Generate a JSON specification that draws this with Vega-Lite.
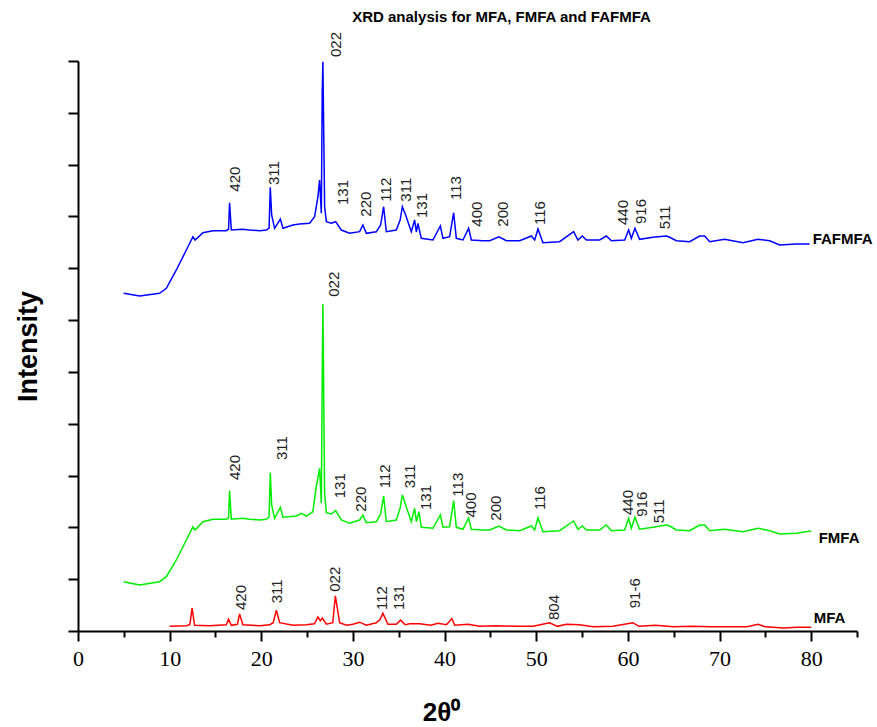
{
"$schema": "https://vega.github.io/schema/vega-lite/v6.json",
"width": 779, "height": 570,
"autosize": {"type": "none"},
"padding": {"left": 78, "top": 61, "right": 20, "bottom": 96},
"background": "white",
"config": {"view": {"stroke": null}, "font": "Liberation Sans"},
"title": {"text": "XRD analysis for MFA, FMFA and FAFMFA", "font": "Liberation Sans", "fontSize": 15, "fontWeight": "bold", "color": "black", "anchor": "middle", "dx": 34, "dy": 16, "offset": 8, "baseline": "bottom"},
"datasets": {
"spectra": [
{"series":"FAFMFA","x":4.98,"y":651.7},{"series":"FAFMFA","x":6.72,"y":646.5},{"series":"FAFMFA","x":8.9,"y":651.7},{"series":"FAFMFA","x":9.64,"y":661.3},{"series":"FAFMFA","x":10.73,"y":696.7},{"series":"FAFMFA","x":11.82,"y":735.3},{"series":"FAFMFA","x":12.54,"y":760.9},{"series":"FAFMFA","x":12.78,"y":754.6},{"series":"FAFMFA","x":13.63,"y":768.6},{"series":"FAFMFA","x":14.72,"y":772.5},{"series":"FAFMFA","x":16.18,"y":772.5},{"series":"FAFMFA","x":16.43,"y":775.8},{"series":"FAFMFA","x":16.54,"y":826.5},{"series":"FAFMFA","x":16.73,"y":773.8},{"series":"FAFMFA","x":17.96,"y":775.2},{"series":"FAFMFA","x":18.73,"y":773.8},{"series":"FAFMFA","x":19.82,"y":772.5},{"series":"FAFMFA","x":20.55,"y":773.8},{"series":"FAFMFA","x":20.85,"y":777.7},{"series":"FAFMFA","x":20.98,"y":856.3},{"series":"FAFMFA","x":21.13,"y":802.8},{"series":"FAFMFA","x":21.45,"y":777.1},{"series":"FAFMFA","x":22.08,"y":795.1},{"series":"FAFMFA","x":22.36,"y":777.1},{"series":"FAFMFA","x":23.45,"y":783.5},{"series":"FAFMFA","x":24.18,"y":785.4},{"series":"FAFMFA","x":25.27,"y":786.8},{"series":"FAFMFA","x":25.82,"y":799.5},{"series":"FAFMFA","x":26.18,"y":838.1},{"series":"FAFMFA","x":26.36,"y":870.3},{"series":"FAFMFA","x":26.55,"y":806.1},{"series":"FAFMFA","x":26.65,"y":1040},{"series":"FAFMFA","x":26.72,"y":1098.6},{"series":"FAFMFA","x":26.91,"y":818.8},{"series":"FAFMFA","x":27.1,"y":789.9},{"series":"FAFMFA","x":27.64,"y":786.8},{"series":"FAFMFA","x":28.11,"y":789.9},{"series":"FAFMFA","x":28.73,"y":773.8},{"series":"FAFMFA","x":29.64,"y":767.5},{"series":"FAFMFA","x":30.73,"y":770.6},{"series":"FAFMFA","x":31.09,"y":783.5},{"series":"FAFMFA","x":31.46,"y":767.5},{"series":"FAFMFA","x":32.55,"y":770.6},{"series":"FAFMFA","x":33.02,"y":783.5},{"series":"FAFMFA","x":33.35,"y":818.8},{"series":"FAFMFA","x":33.64,"y":770.6},{"series":"FAFMFA","x":34.73,"y":773.8},{"series":"FAFMFA","x":35.15,"y":793.1},{"series":"FAFMFA","x":35.39,"y":818.8},{"series":"FAFMFA","x":35.75,"y":802.8},{"series":"FAFMFA","x":36.37,"y":770.6},{"series":"FAFMFA","x":36.73,"y":793.1},{"series":"FAFMFA","x":36.92,"y":770},{"series":"FAFMFA","x":37.09,"y":786.8},{"series":"FAFMFA","x":37.46,"y":757.8},{"series":"FAFMFA","x":38.73,"y":754.6},{"series":"FAFMFA","x":39.54,"y":781.6},{"series":"FAFMFA","x":39.82,"y":757.8},{"series":"FAFMFA","x":40.55,"y":760.9},{"series":"FAFMFA","x":40.99,"y":807.2},{"series":"FAFMFA","x":41.28,"y":757.8},{"series":"FAFMFA","x":42.0,"y":754.6},{"series":"FAFMFA","x":42.62,"y":777.1},{"series":"FAFMFA","x":42.92,"y":754.6},{"series":"FAFMFA","x":44.18,"y":753.2},{"series":"FAFMFA","x":44.92,"y":753.2},{"series":"FAFMFA","x":45.93,"y":760.9},{"series":"FAFMFA","x":46.74,"y":753.2},{"series":"FAFMFA","x":48.19,"y":753.2},{"series":"FAFMFA","x":49.47,"y":762.3},{"series":"FAFMFA","x":49.83,"y":754.6},{"series":"FAFMFA","x":50.19,"y":775.8},{"series":"FAFMFA","x":50.73,"y":749.3},{"series":"FAFMFA","x":52.55,"y":751.3},{"series":"FAFMFA","x":54.08,"y":770.6},{"series":"FAFMFA","x":54.55,"y":754.6},{"series":"FAFMFA","x":55.03,"y":762.3},{"series":"FAFMFA","x":55.47,"y":754.6},{"series":"FAFMFA","x":56.92,"y":754.6},{"series":"FAFMFA","x":57.65,"y":762.3},{"series":"FAFMFA","x":58.2,"y":753.2},{"series":"FAFMFA","x":59.65,"y":754.6},{"series":"FAFMFA","x":60.08,"y":773.8},{"series":"FAFMFA","x":60.38,"y":757.8},{"series":"FAFMFA","x":60.77,"y":777.1},{"series":"FAFMFA","x":61.28,"y":755.9},{"series":"FAFMFA","x":62.73,"y":759.8},{"series":"FAFMFA","x":64.2,"y":762.3},{"series":"FAFMFA","x":64.56,"y":759.8},{"series":"FAFMFA","x":65.29,"y":753.2},{"series":"FAFMFA","x":66.74,"y":751.3},{"series":"FAFMFA","x":67.83,"y":762.3},{"series":"FAFMFA","x":68.38,"y":762.3},{"series":"FAFMFA","x":68.92,"y":751.3},{"series":"FAFMFA","x":70.56,"y":755.9},{"series":"FAFMFA","x":72.56,"y":749.3},{"series":"FAFMFA","x":74.19,"y":755.9},{"series":"FAFMFA","x":75.47,"y":753.2},{"series":"FAFMFA","x":76.56,"y":744.9},{"series":"FAFMFA","x":78.38,"y":746.8},{"series":"FAFMFA","x":79.83,"y":746.8},
{"series":"FMFA","x":4.98,"y":95.1},{"series":"FMFA","x":6.72,"y":88.8},{"series":"FMFA","x":8.9,"y":95.1},{"series":"FMFA","x":9.64,"y":104.8},{"series":"FMFA","x":10.73,"y":137.0},{"series":"FMFA","x":11.82,"y":175.6},{"series":"FMFA","x":12.54,"y":201.3},{"series":"FMFA","x":12.78,"y":194.9},{"series":"FMFA","x":13.63,"y":210.9},{"series":"FMFA","x":14.72,"y":215.6},{"series":"FMFA","x":16.18,"y":215.6},{"series":"FMFA","x":16.43,"y":218.1},{"series":"FMFA","x":16.54,"y":270.7},{"series":"FMFA","x":16.73,"y":215.6},{"series":"FMFA","x":17.96,"y":217.5},{"series":"FMFA","x":18.73,"y":215.6},{"series":"FMFA","x":19.82,"y":214.2},{"series":"FMFA","x":20.55,"y":215.6},{"series":"FMFA","x":20.85,"y":220.0},{"series":"FMFA","x":20.98,"y":305.5},{"series":"FMFA","x":21.13,"y":243.2},{"series":"FMFA","x":21.45,"y":217.5},{"series":"FMFA","x":22.08,"y":238.7},{"series":"FMFA","x":22.36,"y":219.4},{"series":"FMFA","x":23.82,"y":221.9},{"series":"FMFA","x":24.37,"y":227.1},{"series":"FMFA","x":24.91,"y":221.9},{"series":"FMFA","x":25.63,"y":230.2},{"series":"FMFA","x":26.0,"y":278.5},{"series":"FMFA","x":26.36,"y":314.0},{"series":"FMFA","x":26.55,"y":246.4},{"series":"FMFA","x":26.65,"y":500},{"series":"FMFA","x":26.72,"y":631.0},{"series":"FMFA","x":26.91,"y":265.7},{"series":"FMFA","x":27.1,"y":228.3},{"series":"FMFA","x":27.64,"y":225.8},{"series":"FMFA","x":28.11,"y":232.2},{"series":"FMFA","x":28.73,"y":214.2},{"series":"FMFA","x":29.64,"y":207.8},{"series":"FMFA","x":30.73,"y":214.2},{"series":"FMFA","x":31.09,"y":223.9},{"series":"FMFA","x":31.46,"y":209.0},{"series":"FMFA","x":32.55,"y":210.9},{"series":"FMFA","x":33.02,"y":225.8},{"series":"FMFA","x":33.35,"y":260.5},{"series":"FMFA","x":33.64,"y":210.9},{"series":"FMFA","x":34.73,"y":214.2},{"series":"FMFA","x":35.15,"y":237.4},{"series":"FMFA","x":35.39,"y":262.5},{"series":"FMFA","x":35.75,"y":243.2},{"series":"FMFA","x":36.37,"y":210.9},{"series":"FMFA","x":36.73,"y":236.8},{"series":"FMFA","x":36.92,"y":210.9},{"series":"FMFA","x":37.2,"y":230.2},{"series":"FMFA","x":37.46,"y":200.1},{"series":"FMFA","x":38.73,"y":198.2},{"series":"FMFA","x":39.54,"y":223.9},{"series":"FMFA","x":39.82,"y":200.1},{"series":"FMFA","x":40.55,"y":201.3},{"series":"FMFA","x":40.99,"y":251.5},{"series":"FMFA","x":41.28,"y":200.1},{"series":"FMFA","x":42.0,"y":196.3},{"series":"FMFA","x":42.62,"y":218.1},{"series":"FMFA","x":42.92,"y":196.3},{"series":"FMFA","x":44.18,"y":194.9},{"series":"FMFA","x":44.92,"y":194.9},{"series":"FMFA","x":45.93,"y":202.6},{"series":"FMFA","x":46.74,"y":194.9},{"series":"FMFA","x":48.19,"y":193.6},{"series":"FMFA","x":49.47,"y":202.6},{"series":"FMFA","x":49.83,"y":194.9},{"series":"FMFA","x":50.19,"y":218.6},{"series":"FMFA","x":50.73,"y":191.6},{"series":"FMFA","x":52.55,"y":193.6},{"series":"FMFA","x":54.08,"y":212.3},{"series":"FMFA","x":54.55,"y":196.3},{"series":"FMFA","x":55.03,"y":202.6},{"series":"FMFA","x":55.47,"y":194.9},{"series":"FMFA","x":56.92,"y":194.9},{"series":"FMFA","x":57.65,"y":204.6},{"series":"FMFA","x":58.2,"y":193.6},{"series":"FMFA","x":59.65,"y":194.9},{"series":"FMFA","x":60.08,"y":217.5},{"series":"FMFA","x":60.38,"y":198.2},{"series":"FMFA","x":60.77,"y":219.4},{"series":"FMFA","x":61.28,"y":196.3},{"series":"FMFA","x":62.73,"y":200.1},{"series":"FMFA","x":64.2,"y":204.6},{"series":"FMFA","x":64.56,"y":202.6},{"series":"FMFA","x":65.29,"y":194.9},{"series":"FMFA","x":66.74,"y":193.6},{"series":"FMFA","x":67.83,"y":204.6},{"series":"FMFA","x":68.38,"y":204.6},{"series":"FMFA","x":68.92,"y":193.6},{"series":"FMFA","x":70.56,"y":196.3},{"series":"FMFA","x":72.56,"y":191.6},{"series":"FMFA","x":74.19,"y":198.2},{"series":"FMFA","x":75.47,"y":193.6},{"series":"FMFA","x":76.56,"y":187.2},{"series":"FMFA","x":78.38,"y":188.5},{"series":"FMFA","x":80.0,"y":193.0},
{"series":"MFA","x":10.0,"y":9},{"series":"MFA","x":11.8,"y":10},{"series":"MFA","x":12.2,"y":12},{"series":"MFA","x":12.45,"y":44},{"series":"MFA","x":12.72,"y":11},{"series":"MFA","x":14.36,"y":10},{"series":"MFA","x":16.18,"y":12},{"series":"MFA","x":16.43,"y":23},{"series":"MFA","x":16.73,"y":11},{"series":"MFA","x":17.4,"y":13},{"series":"MFA","x":17.63,"y":33},{"series":"MFA","x":17.99,"y":12},{"series":"MFA","x":19.82,"y":10},{"series":"MFA","x":20.91,"y":12},{"series":"MFA","x":21.3,"y":16},{"series":"MFA","x":21.64,"y":40},{"series":"MFA","x":22.0,"y":16},{"series":"MFA","x":23.45,"y":11},{"series":"MFA","x":24.91,"y":12},{"series":"MFA","x":25.8,"y":14},{"series":"MFA","x":26.18,"y":27},{"series":"MFA","x":26.44,"y":20},{"series":"MFA","x":26.66,"y":25},{"series":"MFA","x":27.1,"y":13},{"series":"MFA","x":27.8,"y":16},{"series":"MFA","x":28.08,"y":68},{"series":"MFA","x":28.55,"y":16},{"series":"MFA","x":29.28,"y":11},{"series":"MFA","x":30.0,"y":13},{"series":"MFA","x":30.73,"y":17},{"series":"MFA","x":31.46,"y":11},{"series":"MFA","x":32.55,"y":16},{"series":"MFA","x":32.95,"y":22},{"series":"MFA","x":33.27,"y":34},{"series":"MFA","x":33.82,"y":13},{"series":"MFA","x":34.73,"y":13},{"series":"MFA","x":35.2,"y":21},{"series":"MFA","x":35.7,"y":12},{"series":"MFA","x":36.2,"y":14},{"series":"MFA","x":37.28,"y":14},{"series":"MFA","x":38.5,"y":11},{"series":"MFA","x":39.27,"y":15},{"series":"MFA","x":40.2,"y":12},{"series":"MFA","x":40.8,"y":24},{"series":"MFA","x":41.1,"y":11},{"series":"MFA","x":42.55,"y":13},{"series":"MFA","x":43.82,"y":9},{"series":"MFA","x":45.64,"y":10},{"series":"MFA","x":47.83,"y":9},{"series":"MFA","x":49.64,"y":9},{"series":"MFA","x":51.46,"y":16},{"series":"MFA","x":52.3,"y":9},{"series":"MFA","x":53.28,"y":13},{"series":"MFA","x":54.73,"y":12},{"series":"MFA","x":56.19,"y":8},{"series":"MFA","x":58.37,"y":9},{"series":"MFA","x":60.55,"y":16},{"series":"MFA","x":61.2,"y":9},{"series":"MFA","x":63.0,"y":11},{"series":"MFA","x":65.0,"y":8},{"series":"MFA","x":67.0,"y":9},{"series":"MFA","x":69.0,"y":8},{"series":"MFA","x":71.0,"y":8},{"series":"MFA","x":73.0,"y":8},{"series":"MFA","x":74.2,"y":13},{"series":"MFA","x":75.0,"y":8},{"series":"MFA","x":77.0,"y":6},{"series":"MFA","x":78.5,"y":7},{"series":"MFA","x":80.0,"y":7}
],
"peaks": [
{"label":"420","x":17.09,"y":847.8},{"label":"311","x":21.34,"y":860.7},{"label":"022","x":28.11,"y":1107.7},{"label":"131","x":28.91,"y":822.1},{"label":"220","x":31.46,"y":799.5},{"label":"112","x":33.57,"y":828.5},{"label":"311","x":35.83,"y":828.5},{"label":"131","x":37.57,"y":797.0},{"label":"113","x":41.2,"y":831.7},{"label":"400","x":43.57,"y":780.2},{"label":"200","x":46.37,"y":780.2},{"label":"116","x":50.37,"y":783.5},{"label":"440","x":59.46,"y":783.5},{"label":"916","x":61.39,"y":785.4},{"label":"511","x":64.01,"y":775.2},
{"label":"420","x":17.09,"y":291.4},{"label":"311","x":22.29,"y":330.0},{"label":"022","x":27.89,"y":645.1},{"label":"131","x":28.55,"y":256.1},{"label":"220","x":30.84,"y":230.2},{"label":"112","x":33.46,"y":275.4},{"label":"311","x":36.19,"y":275.4},{"label":"131","x":37.93,"y":233.5},{"label":"113","x":41.46,"y":259.2},{"label":"400","x":42.9,"y":219.0},{"label":"200","x":45.65,"y":212.9},{"label":"116","x":50.37,"y":233.5},{"label":"440","x":60.01,"y":223.9},{"label":"916","x":61.58,"y":220.6},{"label":"511","x":63.39,"y":207.8},
{"label":"420","x":17.74,"y":40.5},{"label":"311","x":21.7,"y":53.5},{"label":"022","x":28.08,"y":75.8},{"label":"112","x":33.21,"y":40.5},{"label":"131","x":34.98,"y":40.5},{"label":"804","x":51.9,"y":21.2},{"label":"91-6","x":60.74,"y":43.8}
],
"names": [
{"name":"FAFMFA","x":80.16,"y":755.9},{"name":"FMFA","x":80.82,"y":178.9},{"name":"MFA","x":80.27,"y":24.5}
]
},
"layer": [
{"data": {"name": "spectra"},
 "mark": {"type": "line", "strokeWidth": 1.5, "clip": false},
 "encoding": {
  "x": {"field": "x", "type": "quantitative",
   "scale": {"domain": [0, 85], "nice": false, "zero": false},
   "axis": {"values": [0,5,10,15,20,25,30,35,40,45,50,55,60,65,70,75,80,85],
    "labelExpr": "datum.value % 10 === 0 ? datum.label : ''",
    "tickSize": {"condition": {"test": "datum.value % 10 === 0", "value": 10}, "value": 6},
    "tickColor": "black", "tickWidth": 2, "domainColor": "black", "domainWidth": 2,
    "labelFont": "Liberation Sans Narrow", "labelFontSize": 22, "labelColor": "black", "labelPadding": 7,
    "labelFlush": false, "labelOverlap": false, "grid": false,
    "title": "2θ⁰", "titleFont": "Liberation Sans", "titleFontSize": 26, "titleFontWeight": "bold", "titleColor": "black",
    "titleX": 363, "titleY": 81, "titleAlign": "center", "titleBaseline": "middle"}},
  "y": {"field": "y", "type": "quantitative",
   "scale": {"domain": [0, 1100], "nice": false, "zero": false},
   "axis": {"values": [0,50,100,150,200,250,300,350,400,450,500,550,600,650,700,750,800,850,900,950,1000,1050,1100],
    "labels": false,
    "tickSize": {"condition": {"test": "datum.value % 100 === 0", "value": 10}, "value": 5},
    "tickColor": "black", "tickWidth": 2, "domainColor": "black", "domainWidth": 2, "grid": false,
    "title": "Intensity", "titleFont": "Liberation Sans", "titleFontSize": 27, "titleFontWeight": "bold", "titleColor": "black",
    "titleX": -50, "titleY": 285, "titleAngle": 270, "titleAlign": "center", "titleBaseline": "middle"}},
  "color": {"field": "series", "type": "nominal",
   "scale": {"domain": ["FAFMFA", "FMFA", "MFA"], "range": ["#0000ff", "#00ee00", "#ff0000"]},
   "legend": null}
 }},
{"data": {"name": "peaks"},
 "mark": {"type": "text", "angle": 270, "align": "left", "baseline": "middle", "font": "Liberation Sans", "fontSize": 15, "color": "#222222"},
 "encoding": {
  "x": {"field": "x", "type": "quantitative"},
  "y": {"field": "y", "type": "quantitative"},
  "text": {"field": "label", "type": "nominal"}
 }},
{"data": {"name": "names"},
 "mark": {"type": "text", "align": "left", "baseline": "middle", "font": "Liberation Sans", "fontSize": 15, "fontWeight": "bold", "color": "black"},
 "encoding": {
  "x": {"field": "x", "type": "quantitative"},
  "y": {"field": "y", "type": "quantitative"},
  "text": {"field": "name", "type": "nominal"}
 }}
]
}
